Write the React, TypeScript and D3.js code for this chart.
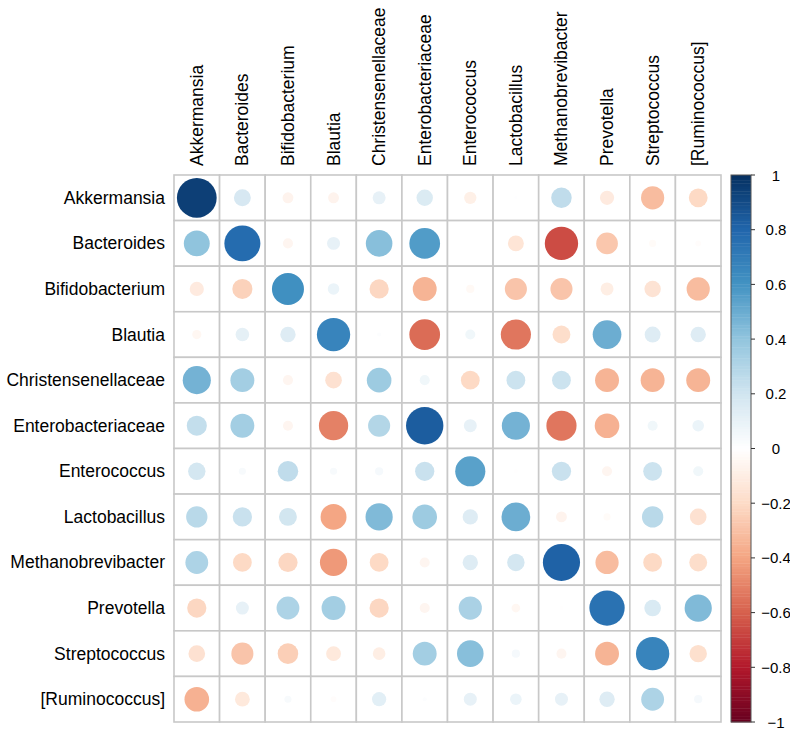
import React from "react";
import * as d3 from "d3";

const taxa = [
  "Akkermansia",
  "Bacteroides",
  "Bifidobacterium",
  "Blautia",
  "Christensenellaceae",
  "Enterobacteriaceae",
  "Enterococcus",
  "Lactobacillus",
  "Methanobrevibacter",
  "Prevotella",
  "Streptococcus",
  "[Ruminococcus]",
];

const rowAkkermansia = [0.94, 0.17, -0.07, -0.07, 0.1, 0.16, -0.09, 0.005, 0.25, -0.12, -0.32, -0.21];
const rowBacteroides = [0.4, 0.77, -0.06, 0.1, 0.42, 0.56, 0.0, -0.15, -0.66, -0.28, -0.03, -0.02];
const rowBifidobacterium = [-0.12, -0.24, 0.61, 0.08, -0.22, -0.34, -0.04, -0.29, -0.29, -0.1, -0.16, -0.32];
const rowBlautia = [-0.05, 0.11, 0.14, 0.66, 0.01, -0.56, 0.06, -0.54, -0.19, 0.49, 0.15, 0.14];
const rowChristensenellaceae = [0.47, 0.34, -0.06, -0.165, 0.36, 0.06, -0.21, 0.21, 0.21, -0.34, -0.34, -0.34];
const rowEnterobacteriaceae = [0.24, 0.34, -0.06, -0.51, 0.29, 0.83, 0.1, 0.47, -0.54, -0.36, 0.06, 0.08];
const rowEnterococcus = [0.18, 0.03, 0.25, 0.03, 0.04, 0.22, 0.54, -0.01, 0.22, -0.06, 0.21, 0.06];
const rowLactobacillus = [0.27, 0.22, 0.19, -0.4, 0.44, 0.36, 0.14, 0.49, -0.07, -0.03, 0.27, -0.165];
const rowMethanobrevibacter = [0.31, -0.21, -0.22, -0.44, -0.21, -0.06, 0.14, 0.18, 0.82, -0.32, -0.21, -0.19];
const rowPrevotella = [-0.22, 0.1, 0.31, 0.34, -0.22, -0.06, 0.32, -0.045, -0.01, 0.74, 0.165, 0.44];
const rowStreptococcus = [-0.165, -0.29, -0.25, -0.13, -0.095, 0.34, 0.42, 0.04, -0.06, -0.34, 0.66, -0.18];
const rowRuminococcus = [-0.36, -0.13, 0.03, -0.02, 0.12, 0.01, 0.1, 0.08, 0.1, 0.14, 0.31, 0.04];

const matrix = [
  rowAkkermansia,
  rowBacteroides,
  rowBifidobacterium,
  rowBlautia,
  rowChristensenellaceae,
  rowEnterobacteriaceae,
  rowEnterococcus,
  rowLactobacillus,
  rowMethanobrevibacter,
  rowPrevotella,
  rowStreptococcus,
  rowRuminococcus,
];

const legendTicks = [1, 0.8, 0.6, 0.4, 0.2, 0, -0.2, -0.4, -0.6, -0.8, -1];

const palette = [
  "#67001F", "#B2182B", "#D6604D", "#F4A582", "#FDDBC7", "#FFFFFF",
  "#D1E5F0", "#92C5DE", "#4393C3", "#2166AC", "#053061",
];

const W = 790;
const H = 729;
const gx0 = 174;
const gy0 = 175;
const gsize = 547;
const barX = 731;
const barW = 20;
const FONT = "'Liberation Sans', Arial, Helvetica, sans-serif";

export default function App() {
  const xs = d3.scaleBand<string>().domain(taxa).range([gx0, gx0 + gsize]);
  const ys = d3.scaleBand<string>().domain(taxa).range([gy0, gy0 + gsize]);
  const cell = xs.bandwidth();
  const color = d3
    .scaleLinear<string>()
    .domain(d3.range(11).map((i) => -1 + i * 0.2))
    .range(palette)
    .interpolate(d3.interpolateRgb)
    .clamp(true);
  const nCol = 200;
  const binColor = (v: number) => {
    const idx = Math.min(nCol - 1, Math.max(0, Math.floor(((v + 1) / 2) * nCol)));
    return color(-1 + (idx + 0.5) * (2 / nCol));
  };
  const rScale = (v: number) => 0.45 * Math.sqrt(Math.abs(v)) * cell;
  const barY = d3.scaleLinear().domain([-1, 1]).range([gy0 + gsize, gy0]);
  const bins = d3.range(nCol);
  const binH = gsize / nCol;

  return (
    <svg width={W} height={H} style={{ position: "absolute", left: 0, top: 0, background: "#fff" }}>
      <rect x={0} y={0} width={W} height={H} fill="#fff" />
      {taxa.map((r) =>
        taxa.map((c) => (
          <rect
            key={r + c}
            x={xs(c)!}
            y={ys(r)!}
            width={cell}
            height={cell}
            fill="#fff"
            stroke="#c8c8c8"
            strokeWidth={1.6}
          />
        ))
      )}
      {matrix.map((row, i) =>
        row.map((v, j) => (
          <circle
            key={i + "-" + j}
            cx={xs(taxa[j])! + cell / 2}
            cy={ys(taxa[i])! + cell / 2}
            r={rScale(v)}
            fill={binColor(v)}
          />
        ))
      )}
      {taxa.map((t) => (
        <text
          key={"r" + t}
          x={gx0 - 9}
          y={ys(t)! + cell / 2}
          textAnchor="end"
          dominantBaseline="central"
          fontFamily={FONT}
          fontSize={17.5}
          fill="#000"
        >
          {t}
        </text>
      ))}
      {taxa.map((t) => {
        const cx = xs(t)! + cell / 2;
        const cy = gy0 - 9;
        return (
          <text
            key={"c" + t}
            transform={`translate(${cx},${cy}) rotate(-90)`}
            textAnchor="start"
            dominantBaseline="central"
            fontFamily={FONT}
            fontSize={17.5}
            fill="#000"
          >
            {t}
          </text>
        );
      })}
      {bins.map((b) => (
        <rect
          key={"b" + b}
          x={barX}
          y={gy0 + gsize - (b + 1) * binH}
          width={barW}
          height={binH + 0.4}
          fill={color(-1 + (b + 0.5) * (2 / nCol))}
        />
      ))}
      <rect x={barX} y={gy0} width={barW} height={gsize} fill="none" stroke="#555" strokeWidth={1} />
      {legendTicks.map((t) => (
        <g key={"t" + t}>
          <line x1={barX + barW} x2={barX + barW + 4} y1={barY(t)} y2={barY(t)} stroke="#333" strokeWidth={1} />
          <text
            x={776}
            y={barY(t)}
            textAnchor="middle"
            dominantBaseline="central"
            fontFamily={FONT}
            fontSize={15}
            fill="#000"
          >
            {t === 0 ? "0" : d3.format("")(t)}
          </text>
        </g>
      ))}
    </svg>
  );
}
